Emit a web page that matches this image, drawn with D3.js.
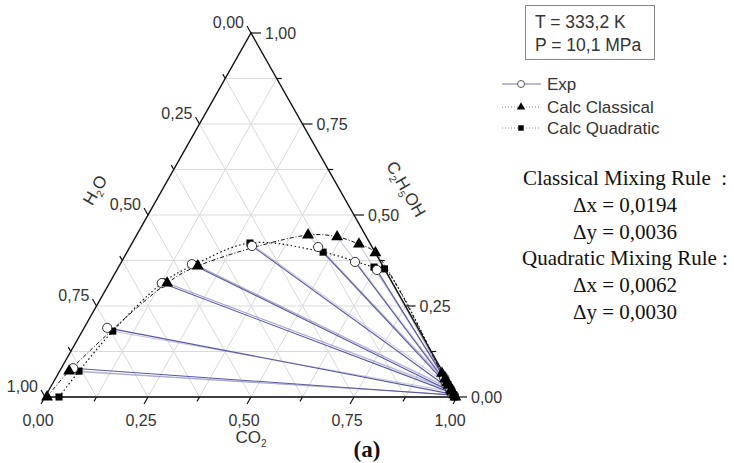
<!DOCTYPE html>
<html>
<head>
<meta charset="utf-8">
<script src="https://cdn.jsdelivr.net/npm/d3@7"></script>
<style>
  body { margin: 0; background: #fff; }
  svg { display: block; }
</style>
</head>
<body>
<script>
// compositions as [CO2, C2H5OH] mole fractions (H2O = 1 - both)
const expLiquid = [[0.029, 0.079], [0.056, 0.190], [0.127, 0.313], [0.174, 0.365],
                   [0.295, 0.415], [0.457, 0.412], [0.567, 0.371], [0.631, 0.349]];
const expVapor = [[0.990, 0.005], [0.984, 0.008], [0.980, 0.012], [0.976, 0.016],
                  [0.972, 0.022], [0.962, 0.031], [0.952, 0.041], [0.943, 0.052]];
const classicalLiquid = [[0.005, 0.000], [0.023, 0.071], [0.140, 0.313], [0.191, 0.360],
                         [0.416, 0.445], [0.489, 0.440], [0.552, 0.420], [0.604, 0.396]];
const classicalVapor = [[0.996, 0.000], [0.990, 0.006], [0.980, 0.016], [0.976, 0.020],
                        [0.964, 0.032], [0.956, 0.040], [0.946, 0.050], [0.931, 0.065]];
const quadraticLiquid = [[0.034, 0.000], [0.047, 0.071], [0.074, 0.181], [0.130, 0.316],
                         [0.182, 0.364], [0.286, 0.423], [0.476, 0.398], [0.620, 0.357],
                         [0.648, 0.352]];
const quadraticVapor = [[0.995, 0.000], [0.989, 0.006], [0.981, 0.014], [0.975, 0.020],
                        [0.971, 0.024], [0.961, 0.034], [0.950, 0.045], [0.940, 0.055],
                        [0.935, 0.060]];
const tickValues = [0, 0.25, 0.5, 0.75, 1];
const tickLabels = ["0,00", "0,25", "0,50", "0,75", "1,00"];
const conditions = ["T = 333,2 K", "P = 10,1 MPa"];
const legendNames = ["Exp", "Calc Classical", "Calc Quadratic"];
const statsLines = ["Classical Mixing Rule  :", "\u0394x = 0,0194", "\u0394y = 0,0036",
                    "Quadratic Mixing Rule :", "\u0394x = 0,0062", "\u0394y = 0,0030"];

const W = 734, H = 463,
      A = {x: 251, y: 33}, BL = {x: 45, y: 397}, BR = {x: 457, y: 397};

const svg = d3.select("body").append("svg").attr("width", W).attr("height", H);

const xScale = d3.scaleLinear().domain([0, 1]).range([BL.x, BR.x]);
const yScale = d3.scaleLinear().domain([0, 1]).range([BL.y, A.y]);
const px = (d) => xScale(d[0] + d[1] / 2),
      py = (d) => yScale(d[1]);

const blue = "#4f4f9e";
const sans = "Arial, 'Liberation Sans', sans-serif";
const serif = "'Times New Roman', 'Liberation Serif', serif";

// grid
const steps = d3.range(1, 8).map((i) => i / 8);
const grid = svg.append("g").attr("stroke", "#d9d9d9").attr("stroke-width", 1);
steps.forEach((v) => {
  [[[0, v], [1 - v, v]], [[v, 0], [v, 1 - v]], [[1 - v, 0], [0, 1 - v]]].forEach((s) => {
    grid.append("line")
      .attr("x1", px(s[0])).attr("y1", py(s[0]))
      .attr("x2", px(s[1])).attr("y2", py(s[1]));
  });
});

// tie lines
const tie = svg.append("g").attr("stroke", blue).attr("fill", "none");
function tieLines(liq, vap, op) {
  liq.forEach((d, i) => {
    tie.append("line")
      .attr("x1", px(d)).attr("y1", py(d))
      .attr("x2", px(vap[i])).attr("y2", py(vap[i]))
      .attr("stroke-width", 1.1).attr("stroke-opacity", op);
  });
}
tieLines(classicalLiquid, classicalVapor, 0.3);
tieLines(quadraticLiquid, quadraticVapor, 0.3);
tieLines(expLiquid, expVapor, 0.95);

// envelopes
const line = d3.line().x(px).y(py).curve(d3.curveCatmullRom.alpha(0.5));
svg.append("path")
  .attr("d", line(classicalLiquid.concat(classicalVapor.slice().reverse())))
  .attr("fill", "none").attr("stroke", "#111").attr("stroke-width", 1)
  .attr("stroke-dasharray", "4,2,1,2");
svg.append("path")
  .attr("d", line(quadraticLiquid.concat(quadraticVapor.slice().reverse())))
  .attr("fill", "none").attr("stroke", "#111").attr("stroke-width", 1.2)
  .attr("stroke-dasharray", "1.5,2.5");

// triangle frame
svg.append("path")
  .attr("d", `M${BL.x},${BL.y}L${BR.x},${BR.y}L${A.x},${A.y}Z`)
  .attr("fill", "none").attr("stroke", "#111").attr("stroke-width", 1.4);

// ticks
const ex = A.x - BL.x, ey = A.y - BL.y, el = Math.hypot(ex, ey);
const ux = ex / el, uy = ey / el;
const ticks = svg.append("g").attr("stroke", "#111").attr("stroke-width", 1.2);
const labels = svg.append("g").attr("font-family", sans).attr("font-size", 16).attr("fill", "#333");
d3.range(0, 9).forEach((i) => {
  const v = i / 8, major = i % 2 === 0, len = major ? 8 : 5;
  const b = [v, 0], l = [0, 1 - v], r = [1 - v, v];
  ticks.append("line").attr("x1", px(b)).attr("y1", py(b))
    .attr("x2", px(b) - ux * len).attr("y2", py(b) - uy * len);
  ticks.append("line").attr("x1", px(l)).attr("y1", py(l))
    .attr("x2", px(l) - ux * len).attr("y2", py(l) + uy * len);
  ticks.append("line").attr("x1", px(r)).attr("y1", py(r))
    .attr("x2", px(r) + (major ? 10 : 5)).attr("y2", py(r));
});
tickValues.forEach((v, i) => {
  const b = [v, 0], l = [0, 1 - v], r = [1 - v, v];
  labels.append("text").attr("x", px(b) - 7).attr("y", py(b) + 29)
    .attr("text-anchor", "middle").text(tickLabels[i]);
  labels.append("text").attr("x", px(l) - 7).attr("y", py(l) - 5)
    .attr("text-anchor", "end").text(tickLabels[i]);
  labels.append("text").attr("x", px(r) + 14).attr("y", py(r) + 6)
    .attr("text-anchor", "start").text(tickLabels[i]);
});

// axis titles
function title(x, y, rot, parts) {
  const t = svg.append("text").attr("font-family", sans).attr("font-size", 17).attr("fill", "#333")
    .attr("text-anchor", "middle")
    .attr("transform", `translate(${x},${y}) rotate(${rot})`);
  parts.forEach((p) => {
    if (p.sub) {
      t.append("tspan").attr("font-size", 10).attr("dy", 4).text(p.t);
    } else {
      t.append("tspan").attr("dy", p.back ? -4 : 0).text(p.t);
    }
  });
}
title(251, 443, 0, [{t: "CO"}, {t: "2", sub: true}]);
title(100, 193, -60, [{t: "H"}, {t: "2", sub: true}, {t: "O", back: true}]);
title(401, 192, 60, [{t: "C"}, {t: "2", sub: true}, {t: "H", back: true}, {t: "5", sub: true},
                     {t: "OH", back: true}]);

// markers
const tri = d3.symbol().type(d3.symbolTriangle).size(62);
const sq = d3.symbol().type(d3.symbolSquare).size(50);
function squares(data) {
  svg.append("g").selectAll("path").data(data).join("path")
    .attr("d", sq).attr("transform", (d) => `translate(${px(d)},${py(d)})`).attr("fill", "#000");
}
function circles(data) {
  svg.append("g").selectAll("circle").data(data).join("circle")
    .attr("cx", px).attr("cy", py).attr("r", 4.6)
    .attr("fill", "#fff").attr("stroke", "#333").attr("stroke-width", 1);
}
function triangles(data) {
  svg.append("g").selectAll("path").data(data).join("path")
    .attr("d", tri).attr("transform", (d) => `translate(${px(d)},${py(d)})`).attr("fill", "#000");
}
squares(quadraticLiquid); squares(quadraticVapor);
circles(expLiquid); circles(expVapor);
triangles(classicalLiquid); triangles(classicalVapor);

// conditions box
svg.append("rect").attr("x", 525.5).attr("y", 5.5).attr("width", 129).attr("height", 54)
  .attr("fill", "#fff").attr("stroke", "#888").attr("stroke-width", 1);
svg.append("g").selectAll("text").data(conditions).join("text")
  .attr("x", 535).attr("y", (d, i) => 28 + i * 23)
  .attr("font-family", sans).attr("font-size", 17.5).attr("fill", "#333").text((d) => d);

// legend
const lg = svg.append("g").attr("font-family", sans).attr("font-size", 17).attr("fill", "#333");
legendNames.forEach((name, i) => {
  const y = [84, 107, 128][i];
  lg.append("line").attr("x1", 502).attr("x2", 541).attr("y1", y).attr("y2", y)
    .attr("stroke", i === 0 ? "#7070b0" : "#888").attr("stroke-width", 1)
    .attr("stroke-dasharray", i === 0 ? null : "1,2");
  if (i === 0) {
    lg.append("circle").attr("cx", 521).attr("cy", y).attr("r", 3.5)
      .attr("fill", "#fff").attr("stroke", "#555");
  } else {
    lg.append("path").attr("d", d3.symbol().type(i === 1 ? d3.symbolTriangle : d3.symbolSquare).size(30))
      .attr("transform", `translate(521,${y})`).attr("fill", "#000");
  }
  lg.append("text").attr("x", 547).attr("y", y + 6).text(name);
});

// deviation summary
svg.append("g").selectAll("text").data(statsLines).join("text")
  .attr("x", 625).attr("y", (d, i) => 185 + i * 26.8)
  .attr("text-anchor", "middle").attr("font-family", serif).attr("font-size", 21)
  .attr("fill", "#111").style("white-space", "pre").text((d) => d);

svg.append("text").attr("x", 367).attr("y", 457).attr("text-anchor", "middle")
  .attr("font-family", serif).attr("font-size", 23).attr("font-weight", "bold")
  .attr("fill", "#111").text("(a)");
</script>
</body>
</html>
